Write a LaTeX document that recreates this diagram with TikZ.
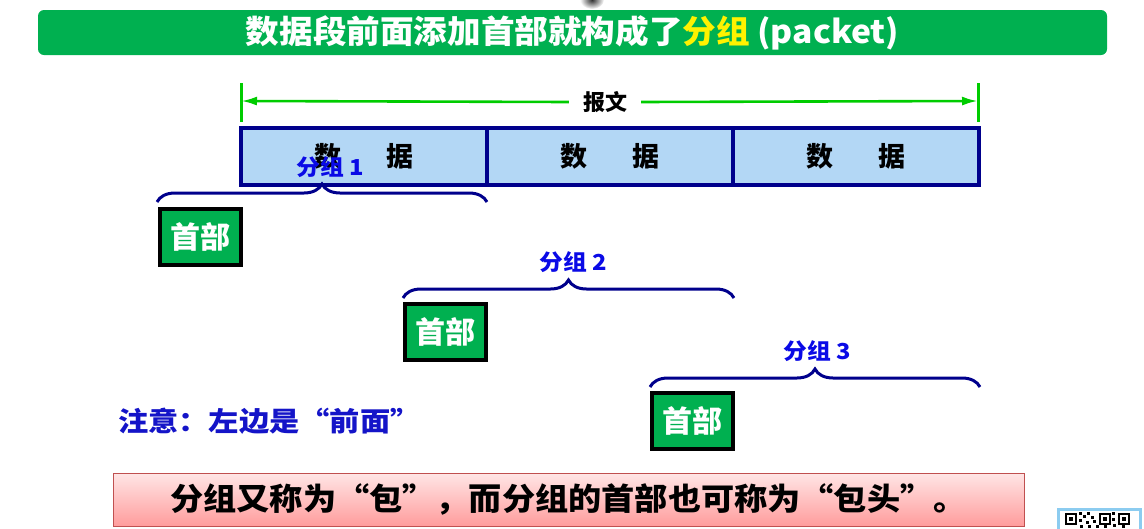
\documentclass[tikz,border=0pt]{standalone}
\usepackage{fontspec}
\setmainfont{Noto Sans CJK SC}
\usetikzlibrary{decorations.pathreplacing,arrows.meta}
\definecolor{titlegreen}{HTML}{00B050}
\definecolor{linegreen}{HTML}{00CC00}
\definecolor{boxblue}{HTML}{B3D7F5}
\definecolor{navy}{HTML}{00008C}
\definecolor{labblue}{HTML}{0A0AE6}
\definecolor{notblue}{HTML}{1414C8}
\definecolor{pinktop}{HTML}{FFE6E6}
\definecolor{pinkbot}{HTML}{FF9C9C}
\definecolor{pinkedge}{HTML}{C05050}
\definecolor{qrblue}{HTML}{8CCCF0}
\tikzset{
  databox/.style={draw=navy, line width=3.5pt, fill=boxblue, minimum width=246pt, minimum height=57pt, inner sep=0pt, font=\bfseries\fontsize{27}{27}\selectfont},
  headbox/.style={draw=black, line width=4pt, fill=titlegreen, text=white, minimum width=81pt, minimum height=56pt, inner sep=0pt, font=\bfseries\fontsize{30}{30}\selectfont},
  bracestyle/.style={draw=navy, line width=3pt, decorate, decoration={brace, amplitude=18pt}},
  grplabel/.style={text=labblue, font=\bfseries\fontsize{22}{22}\selectfont, inner sep=0pt},
  qrfinder/.style={draw=black, line width=1.6pt, fill=white},
}
\begin{document}
\begin{tikzpicture}[x=1pt,y=-1pt]
\useasboundingbox (0,0) rectangle (1144,528);
% small artifact at top
\shade[inner color=black!80, outer color=white] (592,0) ellipse (12 and 9);
% title
\node[fill=titlegreen, rounded corners=6pt, minimum width=1069pt, minimum height=45pt, inner sep=0pt, text=white, font=\bfseries\fontsize{32}{32}\selectfont] (title) at (572.5,32.5) {\scalebox{1.05}[1]{数据段前面添加首部就构成了{\color{yellow}分组} (packet)}};
% message arrow
\coordinate (tl1) at (241,83); \coordinate (tl2) at (241,122);
\coordinate (tr1) at (978,83); \coordinate (tr2) at (978,122);
\coordinate (al) at (241,101); \coordinate (ar) at (978,101);
\draw[linegreen, line width=3pt] (tl1) -- (tl2);
\draw[linegreen, line width=3pt] (tr1) -- (tr2);
\node[fill=white, inner xsep=14pt, inner ysep=2pt, font=\bfseries\fontsize{22}{22}\selectfont] (msg) at (605,102) {报文};
\draw[linegreen, line width=2.6pt, -{Latex[length=16pt,width=9pt]}] (msg.west) -- (al);
\draw[linegreen, line width=2.6pt, -{Latex[length=16pt,width=9pt]}] (msg.east) -- (ar);
% data boxes
\node[databox] (d1) at (364,156.5) {数\hspace{46pt}据};
\node[databox] (d2) at (610,156.5) {数\hspace{46pt}据};
\node[databox] (d3) at (856,156.5) {数\hspace{46pt}据};
% packet 1
\coordinate (b1l) at (157,202); \coordinate (b1r) at (487,202);
\draw[bracestyle] (b1l) -- (b1r);
\node[grplabel] (g1) at (330,167) {\scalebox{1.08}[1]{分组 1}};
\node[headbox] (h1) at (200,237) {首部};
% packet 2
\coordinate (b2l) at (403,298); \coordinate (b2r) at (734,298);
\draw[bracestyle] (b2l) -- (b2r);
\node[grplabel] (g2) at (573,262) {\scalebox{1.08}[1]{分组 2}};
\node[headbox] (h2) at (445.5,332) {首部};
% packet 3
\coordinate (b3l) at (650,387); \coordinate (b3r) at (980,387);
\draw[bracestyle] (b3l) -- (b3r);
\node[grplabel] (g3) at (817,351) {\scalebox{1.08}[1]{分组 3}};
\node[headbox] (h3) at (692.5,421) {首部};
% note
\node[text=notblue, anchor=west, inner sep=0pt, font=\bfseries\fontsize{27}{27}\selectfont] (note) at (118,421) {\scalebox{1.12}[1]{注意：左边是“前面”}};
% bottom box
\node[draw=pinkedge, line width=0.8pt, top color=pinktop, bottom color=pinkbot, minimum width=911pt, minimum height=53pt, inner sep=0pt, font=\bfseries\fontsize{31}{31}\selectfont] (bottom) at (568.5,499.5) {\scalebox{1.07}[1]{分组又称为“包”，而分组的首部也可称为“包头”。}};
% QR code fragment
\node[draw=qrblue, line width=3pt, fill=white, minimum width=82pt, minimum height=28pt, inner sep=0pt, anchor=north west] (qr) at (1056.5,507.5) {};
\node[qrfinder, minimum size=10pt, inner sep=0pt, anchor=north west] (qf1) at (1065,513) {};
\node[qrfinder, minimum size=10pt, inner sep=0pt, anchor=north west] (qf2) at (1099,513) {};
\node[qrfinder, minimum size=10pt, inner sep=0pt, anchor=north west] (qf3) at (1118,513) {};
\fill[black] (qf1.center) +(-2,-2) rectangle +(2,2);
\fill[black] (qf2.center) +(-2,-2) rectangle +(2,2);
\fill[black] (qf3.center) +(-2,-2) rectangle +(2,2);
\foreach \x/\y in {1079/512,1083/515,1087/512,1091/516,1079/519,1086/521,1093/520,1112/512,1112/518,1080/525,1088/525,1096/525,1104/525,1113/524,1122/525}
  \fill[black] (\x,\y) rectangle +(3,3);
\end{tikzpicture}
\end{document}
